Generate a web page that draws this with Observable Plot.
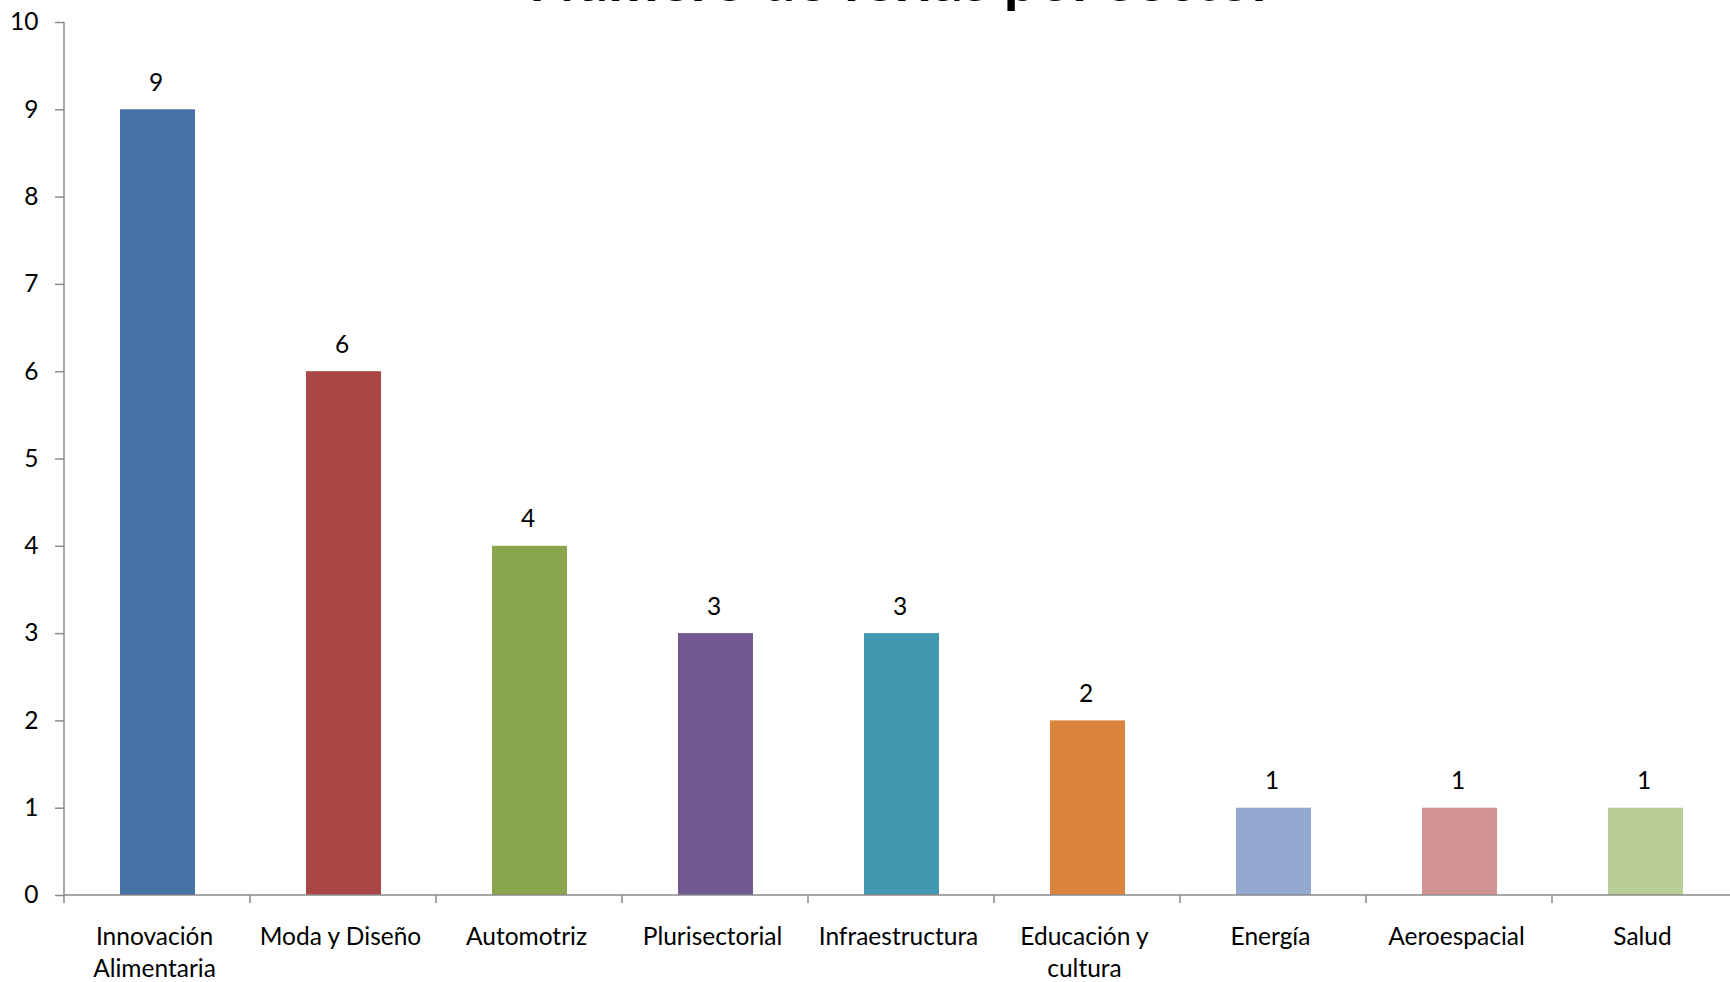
<!DOCTYPE html>
<html>
<head>
<meta charset="utf-8">
<script src="https://cdn.jsdelivr.net/npm/d3@7"></script>
<script src="https://cdn.jsdelivr.net/npm/@observablehq/plot@0.6"></script>
<style>
  html, body { margin: 0; padding: 0; background: white; overflow: hidden; }
  #chart svg { display: block; }
</style>
</head>
<body>
<div id="chart"></div>
<script>
const titleText = "Número de ferias por sector";
const categories = ["Innovación Alimentaria", "Moda y Diseño", "Automotriz", "Plurisectorial", "Infraestructura", "Educación y cultura", "Energía", "Aeroespacial", "Salud"];
const counts = [9, 6, 4, 3, 3, 2, 1, 1, 1];
const colors = ["#4572A7", "#AA4643", "#89A54E", "#71588F", "#4198AF", "#DB843D", "#93A9CF", "#D19392", "#B9CD96"];
const yTicks = [0, 1, 2, 3, 4, 5, 6, 7, 8, 9, 10];
const yMax = 10;
const axisColor = "#8a8a8a";

const data = categories.map((sector, i) => ({sector, count: counts[i]}));

function axisLines(index, scales, values, dims) {
  const {width, height, marginLeft, marginRight, marginBottom} = dims;
  const x0 = marginLeft, x1 = width - marginRight;
  const yb = height - marginBottom;
  const n = categories.length;
  const step = (x1 - x0) / n;
  const g = d3.create("svg:g")
    .attr("stroke", axisColor)
    .attr("stroke-width", 1.5)
    .attr("fill", "none");
  g.append("line").attr("x1", x0).attr("x2", x0).attr("y1", scales.y(yMax)).attr("y2", yb + 8);
  g.append("line").attr("x1", x0).attr("x2", x1).attr("y1", yb).attr("y2", yb);
  for (let i = 1; i <= n; i++) {
    const xi = x0 + i * step;
    g.append("line").attr("x1", xi).attr("x2", xi).attr("y1", yb).attr("y2", yb + 8);
  }
  return g.node();
}

const chart = Plot.plot({
  width: 1730,
  height: 982,
  marginLeft: 64,
  marginRight: -8,
  marginTop: 22,
  marginBottom: 87,
  style: {fontFamily: "Lato", fontSize: "24.5px", color: "black", background: "white", overflow: "hidden"},
  x: {type: "band", domain: categories, paddingInner: 0.597, paddingOuter: 0.2985, axis: null},
  y: {domain: [0, yMax], axis: null},
  color: {domain: categories, range: colors},
  marks: [
    Plot.barY(data, {x: "sector", y: "count", fill: "sector"}),
    axisLines,
    Plot.axisY({ticks: yTicks, tickSize: 9, tickPadding: 17, stroke: axisColor, strokeWidth: 1.5, fill: "black", label: null, tickFormat: d => String(d)}),
    Plot.text(data, {x: "sector", y: "count", text: d => String(d.count), lineAnchor: "bottom", dy: -19, dx: -2, fill: "black"}),
    Plot.text(categories, {x: d => d, text: d => d, frameAnchor: "bottom", lineAnchor: "top", dy: 27, dx: -3.5, lineWidth: 8, lineHeight: 1.3, fill: "black"}),
    Plot.text([titleText], {frameAnchor: "top", lineAnchor: "bottom", dy: -22, fontSize: 60, fontWeight: "bold", fill: "black"})
  ]
});
document.getElementById("chart").appendChild(chart);
</script>
</body>
</html>
